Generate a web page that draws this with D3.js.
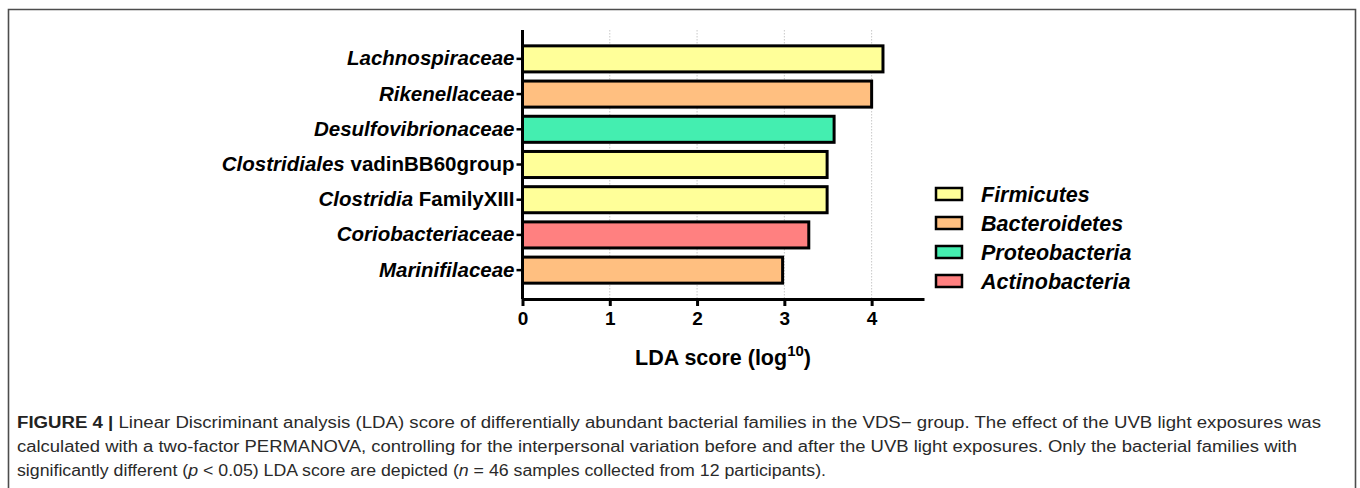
<!DOCTYPE html>
<html>
<head>
<meta charset="utf-8">
<script src="https://cdn.jsdelivr.net/npm/d3@7"></script>
<style>
  html, body { margin: 0; padding: 0; background: #fff; }
  svg { display: block; }
</style>
</head>
<body>
<svg id="chart" width="1360" height="488"></svg>
<script>
// Bacterial families (top to bottom), with an italic part and an upright part
const familyItalic = ["Lachnospiraceae", "Rikenellaceae", "Desulfovibrionaceae", "Clostridiales", "Clostridia", "Coriobacteriaceae", "Marinifilaceae"];
const familyPlain  = ["", "", "", " vadinBB60group", " FamilyXIII", "", ""];
const ldaScores    = [4.13, 4.00, 3.57, 3.49, 3.49, 3.28, 2.98];
const familyPhylum = ["Firmicutes", "Bacteroidetes", "Proteobacteria", "Firmicutes", "Firmicutes", "Actinobacteria", "Bacteroidetes"];

const phyla       = ["Firmicutes", "Bacteroidetes", "Proteobacteria", "Actinobacteria"];
const phylumFills = ["#ffff99", "#ffbf80", "#44eeb0", "#ff8080"];
const xTicks      = [0, 1, 2, 3, 4];

const captionLines = [
  [["FIGURE 4 | ", "b"], ["Linear Discriminant analysis (LDA) score of differentially abundant bacterial families in the VDS\u2212 group. The effect of the UVB light exposures was", ""]],
  [["calculated with a two-factor PERMANOVA, controlling for the interpersonal variation before and after the UVB light exposures. Only the bacterial families with", ""]],
  [["significantly different (", ""], ["p", "i"], [" < 0.05) LDA score are depicted (", ""], ["n", "i"], [" = 46 samples collected from 12 participants).", ""]]
];
const captionWidths = [1304, 1280, 809];

const svg = d3.select("#chart");

// outer figure frame
svg.append("path")
  .attr("d", "M8.5,500 V9.5 H1355.5 V500")
  .attr("fill", "none")
  .attr("stroke", "#4d4d4d")
  .attr("stroke-width", 1.6);

const x = d3.scaleLinear().domain([0, 4.6]).range([522.5, 924]);
const y = d3.scaleBand()
  .domain(d3.range(familyItalic.length))
  .range([30, 299])
  .paddingInner(0.26)
  .paddingOuter(0.45);
const color = d3.scaleOrdinal().domain(phyla).range(phylumFills);

const font = "Arial, 'Liberation Sans', Helvetica, sans-serif";

// dotted vertical gridlines
svg.append("g").selectAll("line")
  .data(xTicks.filter(d => d > 0))
  .join("line")
  .attr("x1", d => x(d)).attr("x2", d => x(d))
  .attr("y1", 30).attr("y2", 299)
  .attr("stroke", "#c8c8c8")
  .attr("stroke-width", 1)
  .attr("stroke-dasharray", "1.5,1.5");

// bars
svg.append("g").selectAll("rect")
  .data(ldaScores)
  .join("rect")
  .attr("x", x(0))
  .attr("y", (d, i) => y(i))
  .attr("width", d => x(d) - x(0))
  .attr("height", y.bandwidth())
  .attr("fill", (d, i) => color(familyPhylum[i]))
  .attr("stroke", "#000")
  .attr("stroke-width", 3);

// x axis
const xAxis = svg.append("g")
  .attr("transform", "translate(0,299)")
  .call(d3.axisBottom(x).tickValues(xTicks).tickFormat(d3.format("d")).tickSizeInner(7).tickSizeOuter(0).tickPadding(6));
xAxis.select(".domain").attr("stroke", "#000").attr("stroke-width", 3);
xAxis.selectAll(".tick line").attr("stroke", "#000").attr("stroke-width", 3);
xAxis.selectAll(".tick text")
  .attr("fill", "#000")
  .style("font-family", font)
  .style("font-size", "19px")
  .style("font-weight", "bold");

// y axis
const yAxis = svg.append("g")
  .attr("transform", `translate(${x(0)},0)`)
  .call(d3.axisLeft(y).tickSizeInner(6).tickSizeOuter(0).tickPadding(3).tickFormat(() => ""));
yAxis.select(".domain").attr("stroke", "#000").attr("stroke-width", 3)
  .attr("d", "M0,30V299");
yAxis.selectAll(".tick line").attr("stroke", "#000").attr("stroke-width", 2.5);
yAxis.selectAll(".tick text").each(function(i) {
  const t = d3.select(this)
    .attr("fill", "#000")
    .attr("x", -8)
    .style("font-family", font)
    .style("font-size", "20.5px")
    .style("font-weight", "bold");
  t.append("tspan").style("font-style", "italic").text(familyItalic[i]);
  if (familyPlain[i]) t.append("tspan").text(familyPlain[i]);
});

// x axis title
const title = svg.append("text")
  .attr("x", 723)
  .attr("y", 365)
  .attr("text-anchor", "middle")
  .attr("fill", "#000")
  .style("font-family", font)
  .style("font-size", "21.5px")
  .style("font-weight", "bold");
title.append("tspan").text("LDA score (log");
title.append("tspan").attr("dy", -9).style("font-size", "15px").text("10");
title.append("tspan").attr("dy", 9).text(")");

// legend
const legend = svg.append("g").selectAll("g")
  .data(phyla)
  .join("g")
  .attr("transform", (d, i) => `translate(936,${188 + i * 29})`);
legend.append("rect")
  .attr("width", 26).attr("height", 12)
  .attr("fill", d => color(d))
  .attr("stroke", "#000")
  .attr("stroke-width", 2.5);
legend.append("text")
  .attr("x", 45)
  .attr("y", 14)
  .attr("fill", "#000")
  .style("font-family", font)
  .style("font-size", "21.5px")
  .style("font-weight", "bold")
  .style("font-style", "italic")
  .text(d => d);

// caption
captionLines.forEach((parts, li) => {
  const t = svg.append("text")
    .attr("x", 17)
    .attr("y", 428 + li * 24)
    .attr("fill", "#2a2a2a")
    .attr("textLength", captionWidths[li])
    .attr("lengthAdjust", "spacingAndGlyphs")
    .style("font-family", "'Liberation Sans Narrow', 'Arial Narrow', Arial, sans-serif")
    .style("font-size", "16px");
  parts.forEach(([s, f]) => {
    const ts = t.append("tspan").text(s);
    if (f === "b") ts.style("font-weight", "bold").attr("fill", "#222");
    if (f === "i") ts.style("font-style", "italic");
  });
});
</script>
</body>
</html>
